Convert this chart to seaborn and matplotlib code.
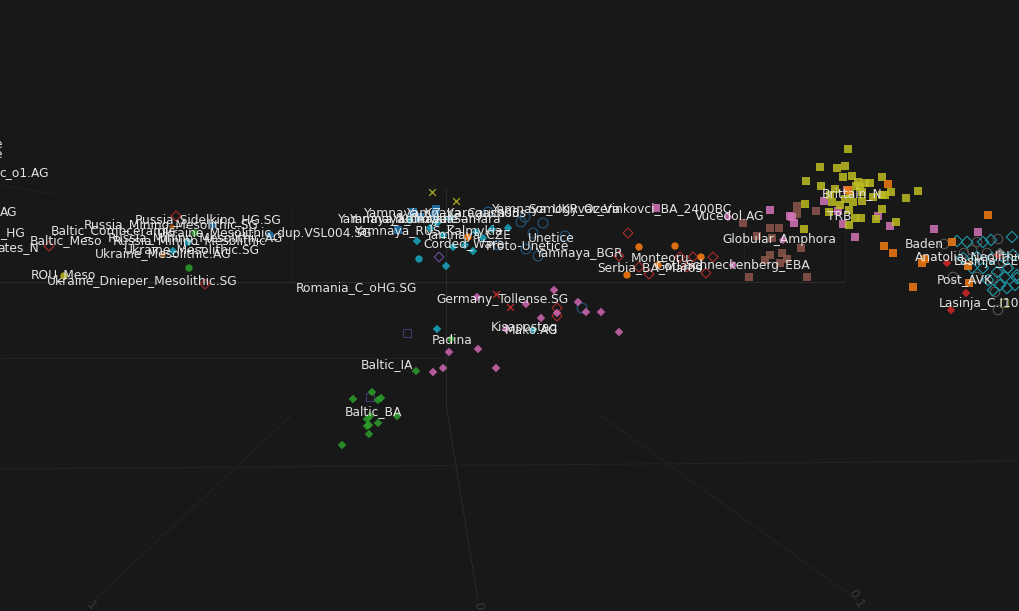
"""
3D PCA style scatter, flat view
"""

import matplotlib
matplotlib.use("Agg")
import matplotlib.pyplot as plt
import pandas as pd
import seaborn as sns

BG = "#181818"

# Marker positions, grouped by colour and shape
olive_sq_x = [848, 820, 837, 845, 806, 821, 843, 852, 882, 918, 906, 891, 882, 858, 865, 870, 860, 835, 830, 853, 862, 873, 832, 840, 849, 829, 805, 882, 896, 876, 861, 855, 849, 804, 885, 856, 862, 850, 845]
olive_sq_y = [149, 167, 168, 166, 181, 186, 177, 176, 177, 191, 198, 192, 195, 182, 183, 183, 187, 189, 195, 202, 201, 197, 202, 205, 210, 212, 204, 209, 222, 219, 218, 218, 225, 229, 195, 186, 192, 194, 199]
pink_sq_x = [824, 838, 843, 855, 878, 890, 934, 978, 847, 794, 792, 656, 770, 790]
pink_sq_y = [201, 211, 224, 237, 216, 226, 229, 232, 190, 223, 217, 208, 210, 216]
brown_sq_x = [797, 816, 797, 743, 770, 779, 757, 772, 801, 770, 782, 787, 765, 780, 749, 807]
brown_sq_y = [206, 211, 214, 223, 228, 228, 236, 238, 248, 255, 253, 259, 260, 263, 277, 277]
orange_sq_x = [888, 988, 884, 893, 952, 922, 925, 913, 968, 969, 848]
orange_sq_y = [184, 215, 246, 253, 242, 263, 259, 287, 266, 283, 190]
blue_sq_x = [413, 436, 420, 435, 398]
blue_sq_y = [212, 209, 217, 215, 230]
cyan_dia_x = [417, 446, 473, 508, 492, 476, 453, 430, 437, 450, 410, 465, 483, 443]
cyan_dia_y = [241, 266, 251, 228, 229, 232, 247, 228, 223, 218, 220, 245, 238, 235]
cyan_dot_x = [419, 188]
cyan_dot_y = [259, 242]
pink_dia_x = [554, 477, 526, 578, 586, 601, 541, 619, 506, 478, 449, 496, 443, 433, 557, 733, 783, 728]
pink_dia_y = [290, 297, 304, 302, 312, 312, 318, 332, 329, 349, 352, 368, 368, 372, 313, 265, 240, 217]
green_dia_x = [416, 372, 381, 378, 353, 397, 370, 367, 378, 369, 367, 369, 342, 451]
green_dia_y = [371, 392, 398, 400, 399, 416, 416, 419, 423, 425, 426, 434, 445, 339]
red_dia_x = [947, 966, 951, 998]
red_dia_y = [263, 293, 310, 255]
grey_dia_x = [1000]
grey_dia_y = [252]
teal_dia_x = [437, 533, 173]
teal_dia_y = [329, 330, 251]
orange_dot_x = [639, 675, 701, 627, 658, 468]
orange_dot_y = [247, 246, 257, 275, 265, 237]
red_open_x = [557, 557, 628, 619, 639, 649, 680, 693, 713, 706, 687, 49, 176, 205]
red_open_y = [308, 316, 233, 256, 267, 274, 257, 257, 257, 273, 267, 246, 216, 284]
cyan_open_x = [957, 967, 983, 991, 1012, 963, 977, 992, 1003, 1013, 983, 997, 1008, 1017, 988, 1007, 1015, 1000, 1017, 972, 1005, 993]
cyan_open_y = [241, 242, 242, 240, 237, 258, 257, 258, 257, 255, 268, 272, 268, 275, 280, 288, 285, 285, 278, 268, 277, 290]
grey_open_x = [944, 964, 953, 977, 998, 987, 995, 998, 1007, 977, 993, 972, 1003]
grey_open_y = [244, 253, 277, 242, 239, 253, 292, 310, 268, 277, 278, 250, 262]
blue_open_x = [488, 521, 525, 543, 533, 565, 526, 538, 498, 582]
blue_open_y = [212, 222, 217, 223, 233, 236, 249, 256, 245, 308]
purple_sq_x = [407, 370]
purple_sq_y = [333, 397]
purple_dia_x = [439]
purple_dia_y = [257]
olive_open_x = [1004]
olive_open_y = [303]
green_dot_x = [189, 195]
green_dot_y = [268, 233]
olive_dot_x = [64]
olive_dot_y = [276]
blue_dot_x = [213, 270]
blue_dot_y = [225, 235]
orange_open_x = [172, 163]
orange_open_y = [227, 255]
cross_red_x = [496, 510]
cross_red_y = [294, 307]
cross_olive_x = [432, 456]
cross_olive_y = [192, 201]

# Population labels: name, left edge, vertical centre
label_names = [
    "e", "e", "c_o1.AG", "AG", "_HG", "ates_N", "Baltic_Meso", "Baltic_Combceramic", "Russia_Minino_Mesolithic.SG",
    "Russia_Sidelkino_HG.SG", "Ukraine_Mesolithic_dup.VSL004.SG", "Russia_Minino_Mesolithic.AG",
    "Russia_Minino_Mesolithic", "Ukraine_Mesolithic.SG", "Ukraine_Mesolithic.AG", "ROU_Meso",
    "Ukraine_Dnieper_Mesolithic.SG", "Romania_C_oHG.SG", "Yamnaya_KZ_Karagash03", "Yamnaya_Caucasus",
    "Yamnaya_Kalmykia", "Yamnaya_Ukraine", "Yamnaya_RUS_Kalmykia", "Yamnaya_Samara", "Yamnaya_UKR_Ozera",
    "Somogyvar_Vinkovci_BA_2400BC", "Vucedol.AG", "Corded_Ware", "Yamnaya_CZE", "Proto-Unetice",
    "Unetice", "Yamnaya_BGR", "Serbia_BA_Maros", "Monteoru", "Gotland", "Schneckenberg_EBA",
    "Globular_Amphora", "Germany_Tollense.SG", "Kisapostag", "Mako.AG", "Padina", "Baltic_IA", "Baltic_BA",
    "Brittain_N", "TRB", "Baden", "Anatolia_Neolithic", "Lasinja_CEU", "Post_AVK", "Lasinja_C.I10",
]
label_x = [
    -6, -6, -1, 0, 0, -3, 30, 51, 84, 135, 157, 108, 113, 124, 95, 31, 47, 296, 363, 406, 337, 349, 354, 392, 491,
    528, 695, 423, 425, 486, 528, 535, 597, 631, 655, 685, 722, 436, 491, 505, 432, 361, 345, 822, 827, 905, 915,
    954, 937, 939,
]
label_y = [
    145, 155, 173, 212, 233, 248, 241, 231, 225, 220, 233, 238, 241, 250, 254, 275, 282, 288, 214, 213, 219, 219,
    231, 219, 210, 209, 217, 244, 236, 246, 238, 253, 268, 259, 267, 265, 239, 299, 327, 331, 340, 365, 412, 194,
    217, 245, 257, 262, 280, 303,
]

# Faint 3D grid and axis lines
grid_x0 = [0, 137, 292, 744, 845, 0, 0, 446, 446, 292, 597, 0]
grid_x1 = [845, 137, 292, 744, 845, 1019, 450, 446, 478, 91, 857, 60]
grid_y0 = [282, 205, 205, 205, 205, 469, 358, 188, 405, 415, 413, 185]
grid_y1 = [282, 282, 282, 282, 282, 461, 358, 405, 600, 603, 600, 195]
grid_col = ["#2c2c2c", "#202020", "#202020", "#202020", "#202020", "#222222", "#212121", "#2a2a2a", "#292929",
            "#222222", "#222222", "#202020"]
axis_tick_labels = ["1", "0", "0.1"]
axis_tick_x = [91, 478, 856]
axis_tick_y = [606, 606, 599]
axis_tick_rot = [-50, -85, -60]

sns.set_theme(style="dark", rc={"axes.facecolor": BG, "figure.facecolor": BG})
plt.rcParams["font.family"] = ["DejaVu Sans"]

fig, ax = plt.subplots(figsize=(10.19, 6.11), dpi=100)
fig.subplots_adjust(0, 0, 1, 1)

for x0, x1, y0, y1, c in zip(grid_x0, grid_x1, grid_y0, grid_y1, grid_col):
    ax.plot([x0, x1], [y0, y1], color=c, lw=0.8, zorder=1)


def draw(xs, ys, color, marker, size, hollow=False):
    df = pd.DataFrame({"x": xs, "y": ys})
    if hollow:
        sns.scatterplot(data=df, x="x", y="y", marker=marker, s=size, ax=ax,
                        facecolors="none", edgecolor=color, linewidth=0.8, zorder=3)
    elif marker == "x":
        sns.scatterplot(data=df, x="x", y="y", marker=marker, s=size, ax=ax, color=color,
                        linewidth=0.9, zorder=3)
    else:
        sns.scatterplot(data=df, x="x", y="y", marker=marker, s=size, ax=ax, color=color,
                        edgecolor="none", alpha=0.85, zorder=3)


draw(purple_sq_x, purple_sq_y, "#3f3a6b", "s", 30, hollow=True)
draw(purple_dia_x, purple_dia_y, "#6d4a9a", "D", 24, hollow=True)
draw(olive_open_x, olive_open_y, "#6a6b20", "s", 28, hollow=True)
draw(grey_open_x, grey_open_y, "#555555", "o", 46, hollow=True)
draw(blue_open_x, blue_open_y, "#24577f", "o", 50, hollow=True)
draw(cyan_open_x, cyan_open_y, "#1c98a8", "D", 34, hollow=True)
draw(red_open_x, red_open_y, "#a82c2c", "D", 26, hollow=True)
draw(orange_open_x, orange_open_y, "#b8661c", "o", 14)
draw(brown_sq_x, brown_sq_y, "#8c564b", "s", 36)
draw(pink_sq_x, pink_sq_y, "#d473b8", "s", 36)
draw(olive_sq_x, olive_sq_y, "#bcbd22", "s", 36)
draw(orange_sq_x, orange_sq_y, "#f07a10", "s", 36)
draw(blue_sq_x, blue_sq_y, "#1f77b4", "s", 36)
draw(pink_dia_x, pink_dia_y, "#d068b4", "D", 19)
draw(green_dia_x, green_dia_y, "#2ca02c", "D", 19)
draw(cyan_dia_x, cyan_dia_y, "#17a8c0", "D", 19)
draw(teal_dia_x, teal_dia_y, "#17a8c0", "D", 19)
draw(red_dia_x, red_dia_y, "#d62728", "D", 19)
draw(grey_dia_x, grey_dia_y, "#8a8a8a", "D", 19)
draw(cyan_dot_x, cyan_dot_y, "#17a8c0", "o", 28)
draw(orange_dot_x, orange_dot_y, "#ff7f0e", "o", 28)
draw(green_dot_x, green_dot_y, "#2ca02c", "o", 28)
draw(olive_dot_x, olive_dot_y, "#bcbd22", "o", 28)
draw(blue_dot_x, blue_dot_y, "#1f77b4", "o", 28)
draw(cross_red_x, cross_red_y, "#c02a2a", "x", 24)
draw(cross_olive_x, cross_olive_y, "#a8a920", "x", 24)

for name, x, y in zip(label_names, label_x, label_y):
    ax.text(x, y, name, color="#e4e4e4", fontsize=8.85, ha="left", va="center", zorder=5, clip_on=True)

for t, x, y, r in zip(axis_tick_labels, axis_tick_x, axis_tick_y, axis_tick_rot):
    ax.text(x, y, t, color="#383838", fontsize=9, ha="center", va="center", rotation=r, zorder=2)

ax.set_xlim(0, 1019)
ax.set_ylim(611, 0)
ax.set_xlabel("")
ax.set_ylabel("")
ax.set_xticks([])
ax.set_yticks([])
sns.despine(ax=ax, left=True, bottom=True)

fig.savefig("out.png", dpi=100, facecolor=BG)
